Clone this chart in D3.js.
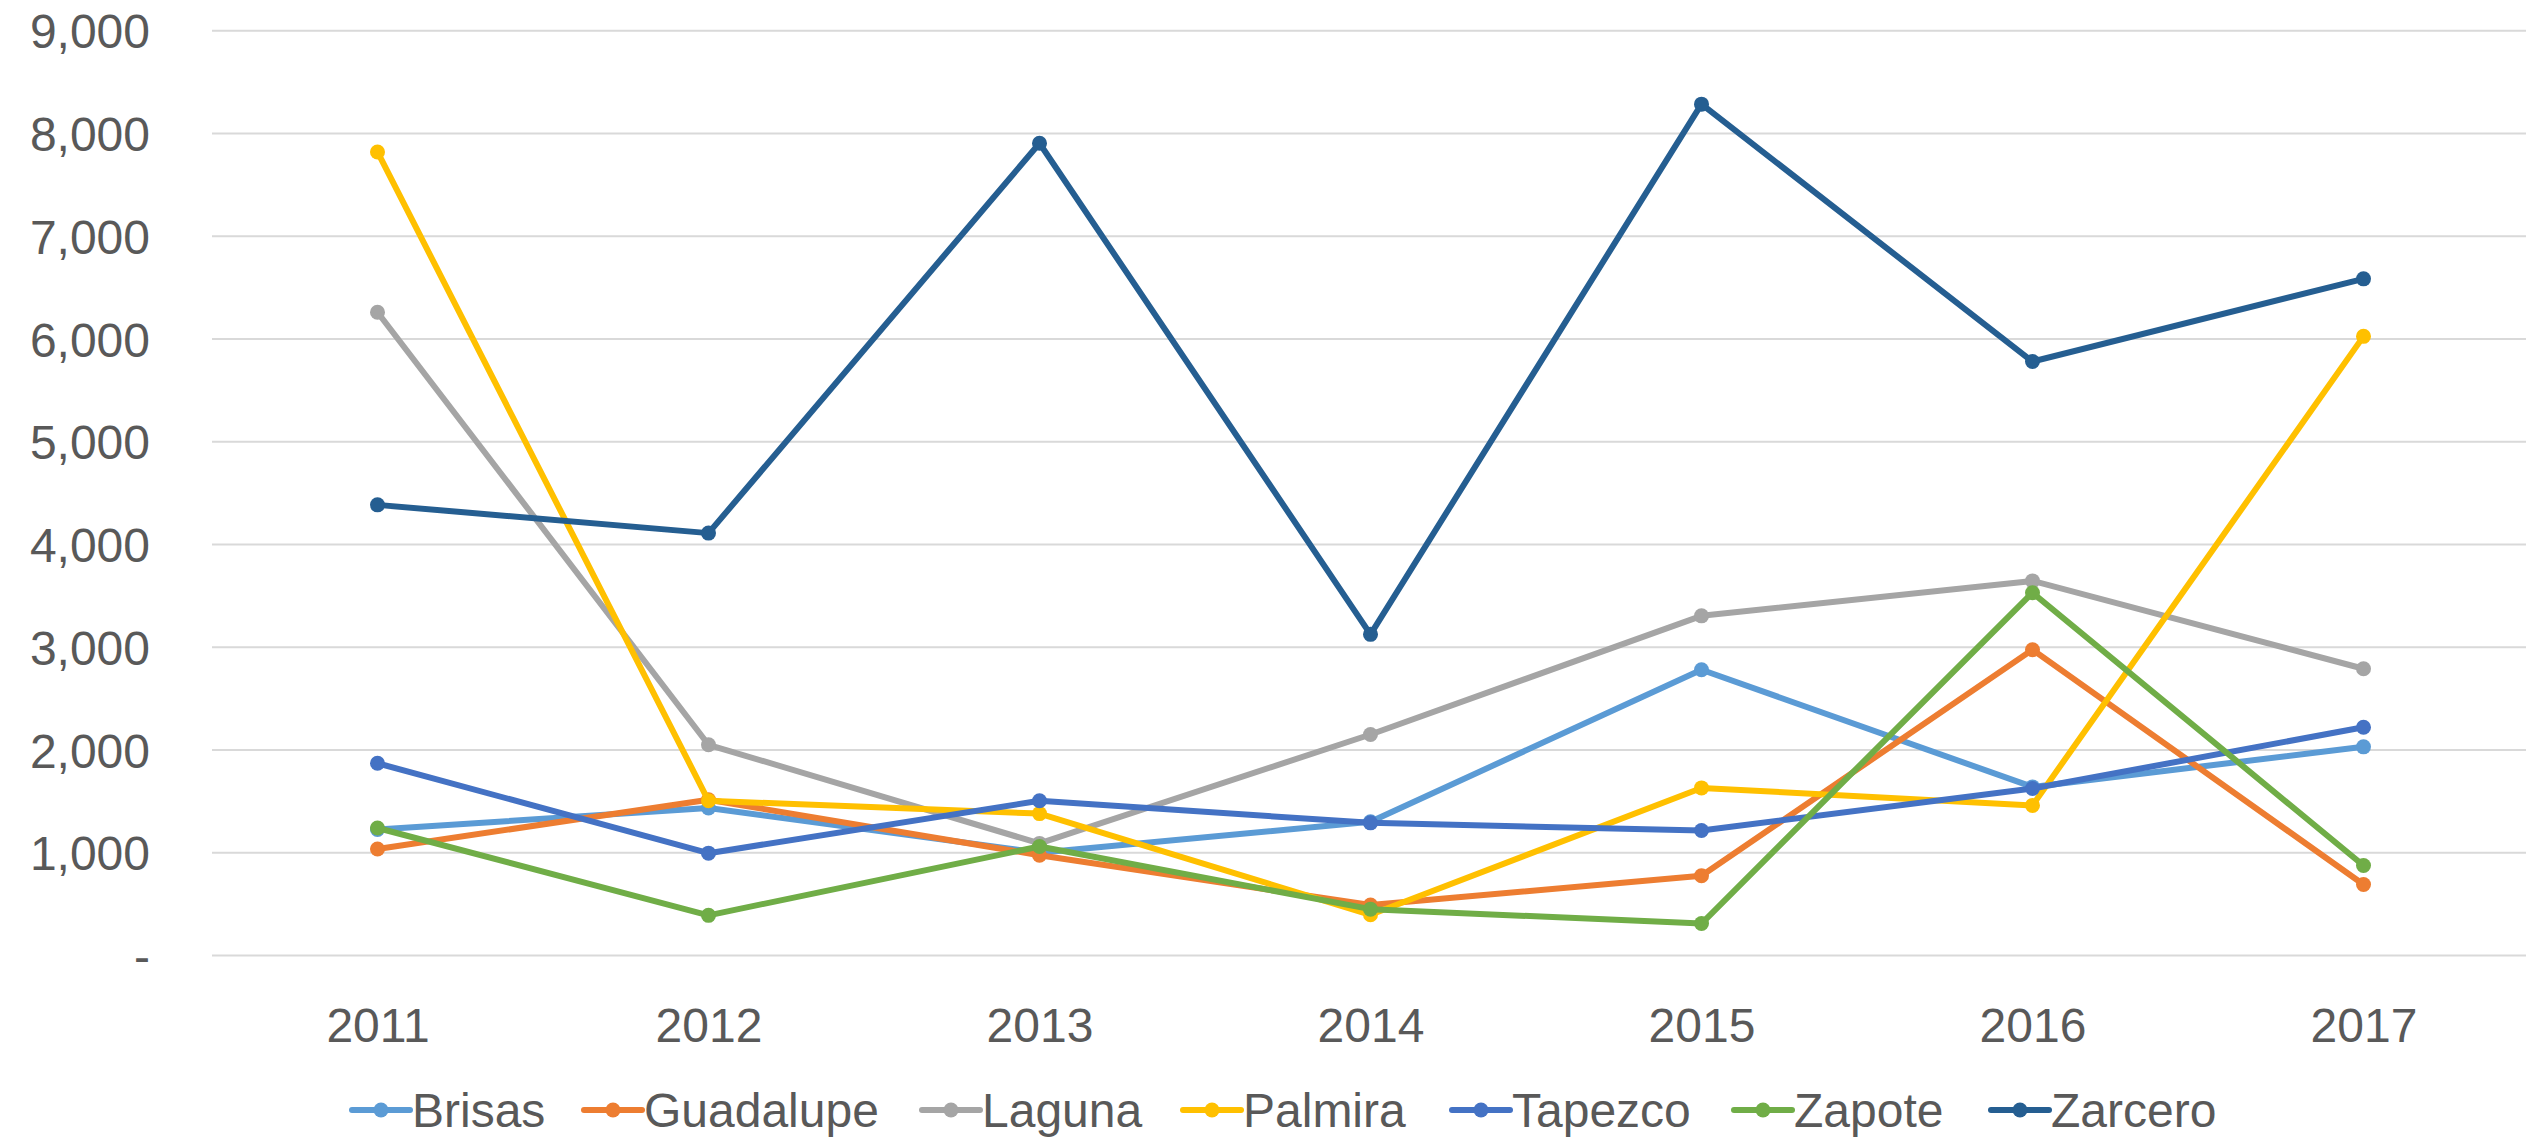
<!DOCTYPE html>
<html>
<head>
<meta charset="utf-8">
<script src="https://cdn.jsdelivr.net/npm/d3@7"></script>
<style>
  html, body { margin: 0; padding: 0; background: #ffffff; }
  svg { display: block; }
</style>
</head>
<body>
<svg id="chart" width="2526" height="1138"></svg>
<script>
// Years on the x axis
const years = ["2011", "2012", "2013", "2014", "2015", "2016", "2017"];

// One array per locality
const brisas    = [1225, 1435, 1000, 1300, 2780, 1640, 2030];
const guadalupe = [1035, 1515,  975,  490,  775, 2975,  690];
const laguna    = [6260, 2050, 1090, 2150, 3305, 3645, 2790];
const palmira   = [7820, 1505, 1380,  395, 1630, 1460, 6025];
const tapezco   = [1870,  995, 1505, 1290, 1215, 1625, 2220];
const zapote    = [1240,  390, 1060,  450,  310, 3530,  875];
const zarcero   = [4385, 4110, 7905, 3125, 8285, 5780, 6585];

const seriesNames  = ["Brisas", "Guadalupe", "Laguna", "Palmira", "Tapezco", "Zapote", "Zarcero"];
const seriesValues = [brisas, guadalupe, laguna, palmira, tapezco, zapote, zarcero];
const seriesColors = ["#5B9BD5", "#ED7D31", "#A5A5A5", "#FFC000", "#4472C4", "#70AD47", "#255E91"];

// Y axis ticks
const yTicks = [0, 1000, 2000, 3000, 4000, 5000, 6000, 7000, 8000, 9000];

const svg = d3.select("#chart");
const textColor = "#595959";
const fontFamily = "'Liberation Sans', Arial, sans-serif";
const fontSize = 48;

const x = d3.scalePoint().domain(years).range([212, 2529]).padding(0.5);
const y = d3.scaleLinear().domain([0, 9000]).range([955.4, 30.7]);

const fmt = d3.format(",");

// Horizontal gridlines
svg.append("g")
  .selectAll("line")
  .data(yTicks)
  .join("line")
  .attr("x1", 212)
  .attr("x2", 2526)
  .attr("y1", d => y(d))
  .attr("y2", d => y(d))
  .attr("stroke", "#d9d9d9")
  .attr("stroke-width", 2);

// Y axis labels
const yAxis = d3.axisLeft(y)
  .tickValues(yTicks)
  .tickSize(0)
  .tickPadding(0)
  .tickFormat(d => d === 0 ? "-" : fmt(d));

svg.append("g")
  .attr("transform", "translate(150,0)")
  .call(yAxis)
  .call(g => g.select(".domain").remove())
  .call(g => g.selectAll("text")
    .attr("fill", textColor)
    .attr("font-family", fontFamily)
    .attr("font-size", fontSize)
    .attr("dy", "0.36em"));

// X axis labels
const xAxis = d3.axisBottom(x).tickSize(0).tickPadding(0);
svg.append("g")
  .attr("transform", "translate(0,1042)")
  .call(xAxis)
  .call(g => g.select(".domain").remove())
  .call(g => g.selectAll("text")
    .attr("fill", textColor)
    .attr("font-family", fontFamily)
    .attr("font-size", fontSize)
    .attr("dy", 0));

// Lines and markers
const line = d3.line()
  .x((d, i) => x(years[i]))
  .y(d => y(d));

const seriesG = svg.append("g")
  .selectAll("g")
  .data(seriesValues.map((vals, i) => ({ name: seriesNames[i], vals, color: seriesColors[i] })))
  .join("g");

seriesG.append("path")
  .attr("d", d => line(d.vals))
  .attr("fill", "none")
  .attr("stroke", d => d.color)
  .attr("stroke-width", 6)
  .attr("stroke-linejoin", "round")
  .attr("stroke-linecap", "round");

seriesG.selectAll("circle")
  .data(d => d.vals.map((v, i) => ({ v, i, color: d.color })))
  .join("circle")
  .attr("cx", d => x(years[d.i]))
  .attr("cy", d => y(d.v))
  .attr("r", 7.5)
  .attr("fill", d => d.color);

// Legend
const legendX = [352, 584, 922, 1183, 1452, 1734, 1991];
const legendY = 1110;
const legend = svg.append("g")
  .selectAll("g")
  .data(seriesNames.map((n, i) => ({ name: n, color: seriesColors[i], lx: legendX[i] })))
  .join("g")
  .attr("transform", d => `translate(${d.lx},${legendY})`);

legend.append("line")
  .attr("x1", 0).attr("x2", 58)
  .attr("y1", 0).attr("y2", 0)
  .attr("stroke", d => d.color)
  .attr("stroke-width", 6)
  .attr("stroke-linecap", "round");

legend.append("circle")
  .attr("cx", 29).attr("cy", 0).attr("r", 7.5)
  .attr("fill", d => d.color);

legend.append("text")
  .attr("x", 60)
  .attr("y", 0)
  .attr("dy", "0.36em")
  .attr("fill", textColor)
  .attr("font-family", fontFamily)
  .attr("font-size", fontSize)
  .text(d => d.name);
</script>
</body>
</html>
